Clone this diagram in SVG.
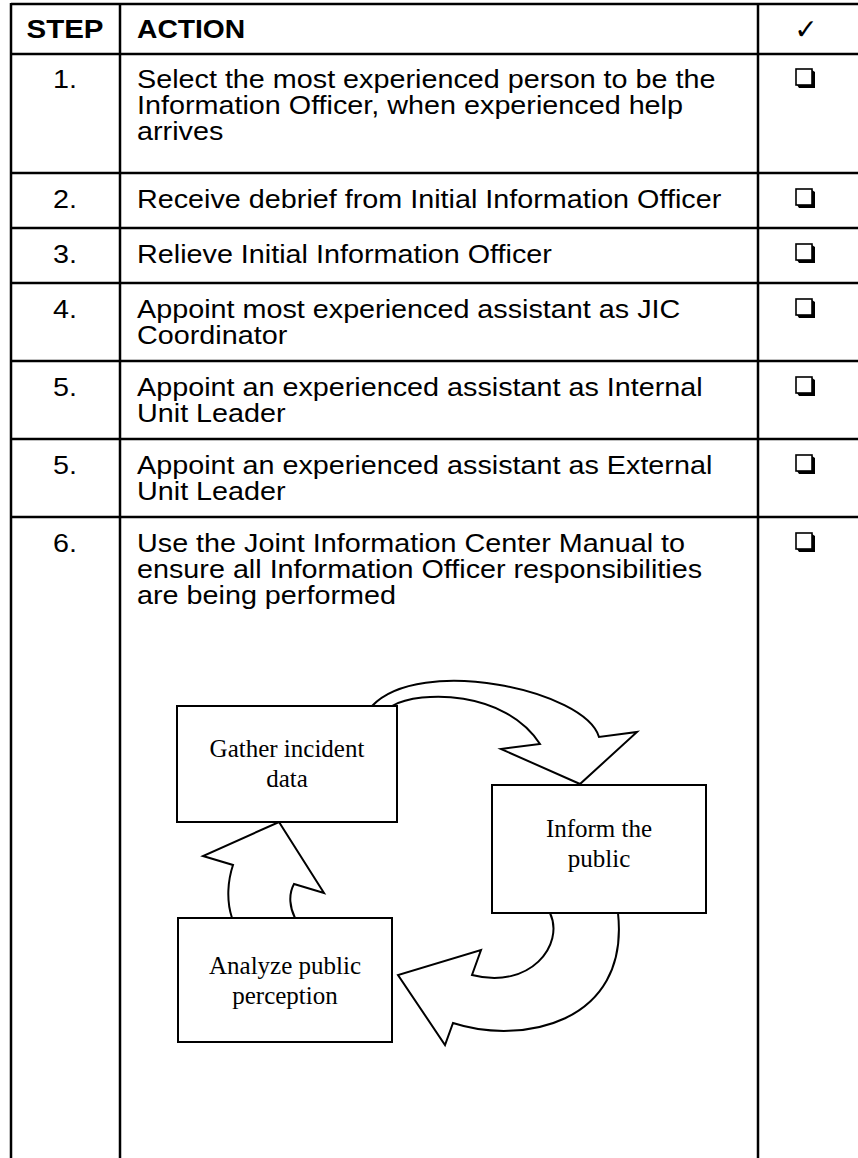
<svg xmlns="http://www.w3.org/2000/svg" width="858" height="1158" viewBox="0 0 858 1158">
<style>
.ln{stroke:#000;stroke-width:2.5;fill:none}
.t{font-family:"Liberation Sans",Arial,sans-serif;font-size:25px;fill:#000}
.h{font-family:"Liberation Sans",Arial,sans-serif;font-size:25px;font-weight:bold;fill:#000}
.n{font-family:"Liberation Sans",Arial,sans-serif;font-size:25px;fill:#000;text-anchor:middle}
.d{font-family:"Liberation Serif","Times New Roman",serif;font-size:25px;fill:#000;text-anchor:middle}
.box{fill:#fff;stroke:#000;stroke-width:2}
.arr{fill:#fff;stroke:#000;stroke-width:2;stroke-linejoin:miter}
</style>
<defs>
<g id="cb">
<rect x="0" y="0" width="16" height="16" fill="#fff" stroke="#000" stroke-width="1.6"/>
<path d="M16 1 L19 3 L19 19 L3 19 L1 16 L16 16 Z" fill="#000"/>
</g>
</defs>
<rect width="858" height="1158" fill="#fff"/>
<g id="table">
<line class="ln" x1="11" y1="4" x2="858" y2="4"/>
<line class="ln" x1="11" y1="54" x2="858" y2="54"/>
<line class="ln" x1="11" y1="173" x2="858" y2="173"/>
<line class="ln" x1="11" y1="228" x2="858" y2="228"/>
<line class="ln" x1="11" y1="283" x2="858" y2="283"/>
<line class="ln" x1="11" y1="361" x2="858" y2="361"/>
<line class="ln" x1="11" y1="439" x2="858" y2="439"/>
<line class="ln" x1="11" y1="517" x2="858" y2="517"/>
<line class="ln" x1="11" y1="3" x2="11" y2="1158"/>
<line class="ln" x1="120" y1="3" x2="120" y2="1158"/>
<line class="ln" x1="758" y1="3" x2="758" y2="1158"/>
</g>
<g id="header">
<text class="h" transform="translate(65 38) scale(1.18 1)" text-anchor="middle">STEP</text>
<text class="h" transform="translate(137 38) scale(1.13 1)">ACTION</text>
<text x="806" y="39" font-family="DejaVu Sans,sans-serif" font-size="28" font-weight="bold" text-anchor="middle">✓</text>
</g>
<g id="steps">
<text class="n" transform="translate(65 88) scale(1.15 1)">1.</text>
<text class="n" transform="translate(65 208) scale(1.15 1)">2.</text>
<text class="n" transform="translate(65 263) scale(1.15 1)">3.</text>
<text class="n" transform="translate(65 318) scale(1.15 1)">4.</text>
<text class="n" transform="translate(65 396) scale(1.15 1)">5.</text>
<text class="n" transform="translate(65 474) scale(1.15 1)">5.</text>
<text class="n" transform="translate(65 552) scale(1.15 1)">6.</text>
</g>
<g id="actions" transform="translate(137 0) scale(1.15 1)">
<text class="t" x="0" y="88">Select the most experienced person to be the</text>
<text class="t" x="0" y="114">Information Officer, when experienced help</text>
<text class="t" x="0" y="140">arrives</text>
<text class="t" x="0" y="208">Receive debrief from Initial Information Officer</text>
<text class="t" x="0" y="263">Relieve Initial Information Officer</text>
<text class="t" x="0" y="318">Appoint most experienced assistant as JIC</text>
<text class="t" x="0" y="344">Coordinator</text>
<text class="t" x="0" y="396">Appoint an experienced assistant as Internal</text>
<text class="t" x="0" y="422">Unit Leader</text>
<text class="t" x="0" y="474">Appoint an experienced assistant as External</text>
<text class="t" x="0" y="500">Unit Leader</text>
<text class="t" x="0" y="552">Use the Joint Information Center Manual to</text>
<text class="t" x="0" y="578">ensure all Information Officer responsibilities</text>
<text class="t" x="0" y="604">are being performed</text>
</g>
<g id="checkboxes">
<use href="#cb" x="796" y="69"/>
<use href="#cb" x="796" y="189"/>
<use href="#cb" x="796" y="244"/>
<use href="#cb" x="796" y="299"/>
<use href="#cb" x="796" y="377"/>
<use href="#cb" x="796" y="455"/>
<use href="#cb" x="796" y="533"/>
</g>
<g id="connectors">
<path class="arr" d="M392 706 C420 690 505 690 540 744 L501 749 L580 784 L637 732 L599 737 C585 690 420 655 372 706"/>
<path class="arr" d="M550 913 C565 945 530 990 472 975 L481 950 L398 975 L445 1045 L453 1023 C520 1045 630 1025 618 913"/>
<path class="arr" d="M232 918 C226 900 228 880 233 865 L203 856 L279 822 L324 893 L294 884 C288 895 290 908 295 918"/>
</g>
<g id="gather">
<rect class="box" x="177" y="706" width="220" height="116"/>
<text class="d" x="287" y="757">Gather incident</text>
<text class="d" x="287" y="787">data</text>
</g>
<g id="inform">
<rect class="box" x="492" y="785" width="214" height="128"/>
<text class="d" x="599" y="837">Inform the</text>
<text class="d" x="599" y="867">public</text>
</g>
<g id="analyze">
<rect class="box" x="178" y="918" width="214" height="124"/>
<text class="d" x="285" y="974">Analyze public</text>
<text class="d" x="285" y="1004">perception</text>
</g>
</svg>
